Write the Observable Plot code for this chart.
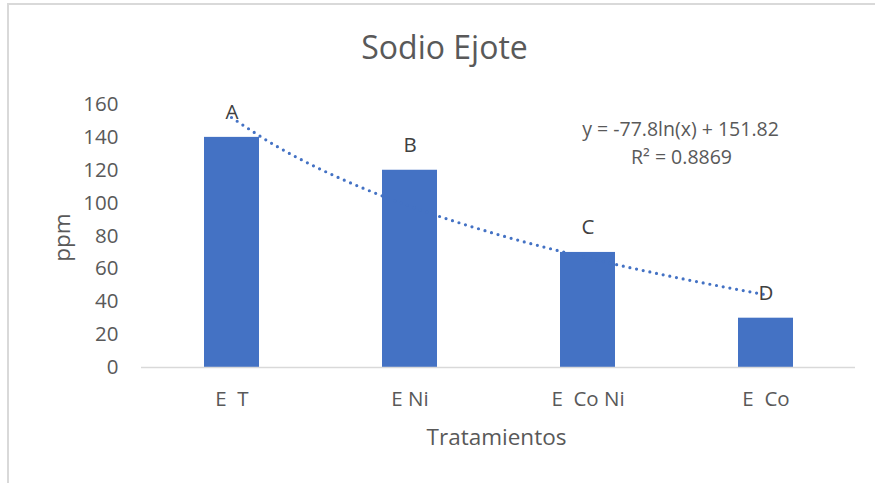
<!DOCTYPE html>
<html>
<head>
<meta charset="utf-8">
<script src="https://cdn.jsdelivr.net/npm/d3@7"></script>
<script src="https://cdn.jsdelivr.net/npm/@observablehq/plot@0.6"></script>
<style>
html, body { margin: 0; padding: 0; background: #fff; }
#wrap { position: relative; width: 875px; height: 483px; overflow: hidden; }
#wrap svg { position: absolute; left: 0; top: 0; }
#border { position: absolute; left: 7px; top: 3px; width: 900px; height: 600px;
  border-left: 2px solid #d9d9d9; border-top: 2px solid #d9d9d9; pointer-events: none; }
svg text { white-space: pre; }
</style>
</head>
<body>
<div id="wrap"></div>
<script>
// ---- data ----
const categories = ["E  T", "E Ni", "E  Co Ni", "E  Co"];
const values = [140, 120, 70, 30];
const letters = ["A", "B", "C", "D"];
const yTicks = [0, 20, 40, 60, 80, 100, 120, 140, 160];
// dotted logarithmic trendline (x = category position 1..4)
const trendX = [1, 1.25, 1.5, 1.75, 2, 2.5, 3, 3.5, 4];
const trendY = [151.8, 134.5, 120.3, 108.3, 97.9, 80.5, 66.4, 54.4, 44.0];
const title = "Sodio Ejote";
const xTitle = "Tratamientos";
const yTitle = "ppm";
const equation = "y = -77.8ln(x) + 151.82";
const rSquared = "R² = 0.8869";

const barColor = "#4472C4";
const textColor = "#595959";

const bars = categories.map((c, i) => ({cat: c, v: values[i], letter: letters[i]}));
const trend = trendX.map((x, i) => ({x, y: trendY[i]}));

// trendline mark drawn through the band scale positions
function trendMark(index, scales) {
  const sx = scales.x, sy = scales.y;
  const bw = typeof sx.bandwidth === "function" ? sx.bandwidth() : sx.bandwidth;
  const c0 = sx(categories[0]) + bw / 2;
  const step = sx(categories[1]) - sx(categories[0]);
  const line = d3.line().x(d => c0 + (d.x - 1) * step).y(d => sy(d.y)).curve(d3.curveMonotoneX);
  const g = d3.create("svg:path")
    .attr("d", line(trend))
    .attr("fill", "none")
    .attr("stroke", barColor)
    .attr("stroke-width", 3.2)
    .attr("stroke-linecap", "round")
    .attr("stroke-dasharray", "0 6.8");
  return g.node();
}

const plot = Plot.plot({
  width: 875,
  height: 483,
  marginLeft: 141,
  marginRight: 20,
  marginTop: 104,
  marginBottom: 116,
  style: {fontFamily: "'Open Sans', sans-serif", color: textColor, background: "transparent"},
  x: {type: "band", domain: categories, paddingInner: 0.692, paddingOuter: 0.346},
  y: {domain: [0, 160]},
  marks: [
    Plot.axisY({ticks: yTicks, tickSize: 0, tickPadding: 23, fontSize: 20.5, label: null, fill: textColor}),
    Plot.axisX({tickSize: 0, tickPadding: 24, fontSize: 20.5, label: null, fill: textColor}),
    Plot.barY(bars, {x: "cat", y: "v", fill: barColor}),
    Plot.ruleY([0], {stroke: "#d9d9d9", strokeWidth: 1.5}),
    trendMark,
    Plot.text(bars, {x: "cat", y: "v", text: "letter", dy: -25, fontSize: 20.5, fill: "#404040", lineAnchor: "middle"}),
    Plot.text([title], {text: d => d, frameAnchor: "top", dx: -54, dy: -56, fontSize: 32, fill: textColor, lineAnchor: "middle", textAnchor: "middle"}),
    Plot.text([xTitle], {text: d => d, frameAnchor: "bottom", dx: -2, dy: 70, fontSize: 22.5, fill: textColor, lineAnchor: "middle", textAnchor: "middle"}),
    Plot.text([yTitle], {text: d => d, frameAnchor: "left", dx: -78.5, dy: 1.5, rotate: -90, fontSize: 22.5, fill: textColor, lineAnchor: "middle", textAnchor: "middle"}),
    Plot.text([equation], {text: d => d, frameAnchor: "top-left", dx: 539, dy: 25, fontSize: 19.5, fill: textColor, lineAnchor: "middle", textAnchor: "middle"}),
    Plot.text([rSquared], {text: d => d, frameAnchor: "top-left", dx: 540, dy: 53, fontSize: 19.5, fill: textColor, lineAnchor: "middle", textAnchor: "middle"})
  ]
});

const wrap = document.getElementById("wrap");
wrap.appendChild(plot);
const border = document.createElement("div");
border.id = "border";
wrap.appendChild(border);
</script>
</body>
</html>
